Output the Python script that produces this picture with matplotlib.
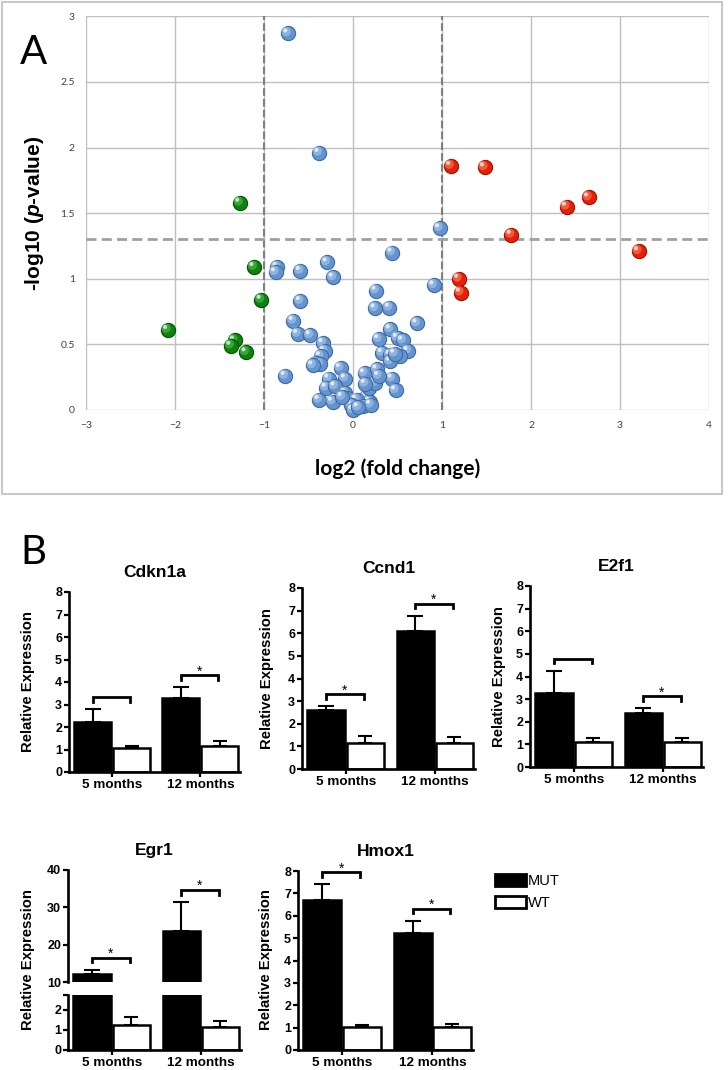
import matplotlib
matplotlib.use("Agg")
import matplotlib.pyplot as plt
from matplotlib.patches import Patch, Rectangle
from matplotlib.transforms import offset_copy
import numpy as np

plt.rcParams['font.family'] = ['Liberation Sans', 'DejaVu Sans']
plt.rcParams['mathtext.fontset'] = 'custom'
plt.rcParams['mathtext.it'] = 'Liberation Sans:italic:bold'
plt.rcParams['mathtext.rm'] = 'Liberation Sans:bold'

W, H = 728, 1070

#########################################################
# panel A : volcano plot (log2 fold change vs -log10 p)
blue_x = [-0.73, -0.38, 0.975, 0.44, -0.29, -0.85, -0.87, -0.59, -0.22,
          0.26, 0.91, -0.59, 0.25, 0.41, -0.67, 0.72, -0.62, -0.48, 0.42,
          0.29, 0.50, 0.56, 0.62, -0.335, -0.32, -0.365, -0.42, -0.37, -0.45,
          0.33, 0.42, 0.53, 0.42, 0.47, -0.76, -0.14, -0.27, -0.085, 0.13,
          0.27, 0.44, 0.48, -0.30, -0.20, -0.085, -0.38, -0.23, -0.065, 0.01,
          0.08, 0.15, 0.19, 0.18, 0.25, 0.04, -0.02, 0.11, 0.20, -0.12,
          0.00, 0.06, 0.29, 0.14]
blue_y = [2.87, 1.96, 1.385, 1.20, 1.125, 1.09, 1.05, 1.06, 1.01,
          0.91, 0.95, 0.83, 0.775, 0.78, 0.68, 0.66, 0.58, 0.57, 0.615,
          0.54, 0.55, 0.53, 0.45, 0.51, 0.45, 0.41, 0.36, 0.35, 0.34,
          0.435, 0.42, 0.41, 0.37, 0.43, 0.26, 0.32, 0.24, 0.24, 0.28,
          0.31, 0.24, 0.15, 0.17, 0.18, 0.13, 0.077, 0.064, 0.09, 0.013,
          0.064, 0.10, 0.064, 0.17, 0.205, 0.08, 0.04, 0.03, 0.04, 0.10,
          0.00, 0.02, 0.26, 0.20]
green_x = [-1.27, -1.11, -1.03, -2.08, -1.33, -1.37, -1.20]
green_y = [1.58, 1.09, 0.84, 0.61, 0.53, 0.49, 0.44]
red_x = [1.10, 1.48, 2.40, 2.65, 1.78, 3.21, 1.19, 1.21]
red_y = [1.86, 1.85, 1.55, 1.62, 1.335, 1.21, 1.00, 0.895]

fc_cut = [-1, 1]
p_cut = 1.3

#########################################################
# panel B : relative expression, MUT vs WT
genes = ['Cdkn1a', 'Ccnd1', 'E2f1', 'Egr1', 'Hmox1']
ages = ['5 months', '12 months']
mut_mean = [[2.24, 3.27], [2.59, 6.10], [3.29, 2.40], [12.2, 23.8], [6.70, 5.24]]
mut_sem = [[0.55, 0.49], [0.18, 0.68], [0.97, 0.19], [1.1, 7.6], [0.70, 0.53]]
wt_mean = [[1.05, 1.17], [1.14, 1.14], [1.09, 1.09], [1.25, 1.17], [1.04, 1.04]]
wt_sem = [[0.10, 0.22], [0.33, 0.28], [0.20, 0.20], [0.42, 0.28], [0.06, 0.11]]
signif = [['', '*'], ['*', '*'], ['', '*'], ['*', '*'], ['*', '*']]


def frac(x0, y0, x1, y1):
    # pixel box (top-left origin) -> figure fraction
    return [x0 / W, 1 - y1 / H, (x1 - x0) / W, (y1 - y0) / H]


def spheres(ax, xs, ys, base, dark, light):
    hi = offset_copy(ax.transData, fig=ax.figure, x=-1.8, y=1.8, units='dots')
    sp = offset_copy(ax.transData, fig=ax.figure, x=-2.8, y=3.0, units='dots')
    for x, y in zip(xs, ys):
        ax.scatter([x], [y], s=105, color=base, edgecolors=dark, linewidths=0.8,
                   zorder=3, clip_on=False)
        ax.scatter([x], [y], s=45, color=light, alpha=0.55, edgecolors='none',
                   zorder=3, transform=hi, clip_on=False)
        ax.scatter([x], [y], s=9, color='white', alpha=0.7, edgecolors='none',
                   zorder=3, transform=sp, clip_on=False)


fig = plt.figure(figsize=(W / 100, H / 100), dpi=100)
fig.patch.set_facecolor('white')

# ---------------- A ----------------
fig.add_artist(Rectangle((2 / W, 1 - 494 / H), 720 / W, 492 / H, transform=fig.transFigure,
                         fill=False, edgecolor='#c8c8c8', linewidth=1.5))
axA = fig.add_axes(frac(86, 16.4, 709, 410))
axA.set_xlim(-3, 4)
axA.set_ylim(0, 3)
axA.set_xticks(range(-3, 5))
axA.set_yticks(np.arange(0, 3.01, 0.5))
axA.set_yticklabels([f'{v:g}' for v in np.arange(0, 3.01, 0.5)])
axA.grid(True, color='#bfbfbf', linewidth=1)
axA.set_axisbelow(True)
for s in axA.spines.values():
    s.set_visible(False)
axA.tick_params(length=0, labelsize=7.5, labelcolor='#404040', pad=8)
for lab in axA.get_xticklabels() + axA.get_yticklabels():
    lab.set_fontfamily('Lato')

for c in fc_cut:
    axA.axvline(c, color='#808080', linewidth=1.5, linestyle=(0, (3.7, 1.5)), zorder=2)
axA.axhline(p_cut, color='#a0a0a0', linewidth=2, linestyle=(0, (3.6, 1.9)), zorder=2)

spheres(axA, blue_x, blue_y, '#6394cf', '#3d6aa3', '#b3cdee')
spheres(axA, green_x, green_y, '#0d820d', '#045204', '#5cc25c')
spheres(axA, red_x, red_y, '#e3200a', '#9c1204', '#ff8a6a')

axA.set_xlabel('log2 (fold change)', fontfamily='Lato', fontweight='bold', fontsize=15)
axA.xaxis.set_label_coords(0.5, -0.122)
axA.set_ylabel(r'-log10 ($\mathit{p}$-value)', fontweight='bold', fontsize=15)
axA.yaxis.set_label_coords(-0.065, 0.5)

fig.text(33 / W, 1 - 53 / H, 'A', fontfamily='Lato', fontsize=29, ha='center', va='center')
fig.text(33 / W, 1 - 553 / H, 'B', fontfamily='Lato', fontsize=29, ha='center', va='center')

# ---------------- B ----------------
pos = np.arange(len(ages))
bw, off = 0.42, 0.22


def style(ax, ticks, xaxis=True):
    for s in ['top', 'right']:
        ax.spines[s].set_visible(False)
    for s in ['left', 'bottom']:
        ax.spines[s].set_linewidth(1.9)
    ax.set_xlim(-0.49, 1.45)
    ax.set_yticks(ticks)
    ax.set_yticklabels([f'{t:g}' for t in ticks], fontweight='bold', fontsize=9)
    ax.tick_params(axis='y', direction='out', length=3.5, width=1.6, pad=1.5)
    if xaxis:
        ax.set_xticks(pos)
        ax.set_xticklabels(ages, fontweight='bold', fontsize=9.7)
        ax.tick_params(axis='x', direction='out', length=3.5, width=1.6, pad=1.5)
    else:
        ax.spines['bottom'].set_visible(False)
        ax.set_xticks([])


def bars(ax, i):
    ax.bar(pos - off, mut_mean[i], bw, color='black', edgecolor='black', linewidth=1.8, zorder=2)
    ax.bar(pos + off, wt_mean[i], bw, color='white', edgecolor='black', linewidth=1.8, zorder=2)
    ax.errorbar(pos - off, mut_mean[i], yerr=[np.zeros(2), mut_sem[i]], fmt='none',
                ecolor='black', elinewidth=1.5, capsize=5.5, capthick=1.5, zorder=1)
    ax.errorbar(pos + off, wt_mean[i], yerr=[np.zeros(2), wt_sem[i]], fmt='none',
                ecolor='black', elinewidth=1.5, capsize=5, capthick=1.5, zorder=1)


def brackets(ax, i):
    lo, hi = ax.get_ylim()
    per_px = (hi - lo) / (ax.get_position().height * H)
    for g in range(len(ages)):
        top = max(mut_mean[i][g] + mut_sem[i][g], wt_mean[i][g] + wt_sem[i][g])
        y = top + 12 * per_px
        x0, x1 = g - off, g + 0.2
        ax.plot([x0, x0, x1, x1], [y - 4.5 * per_px, y, y, y - 4.5 * per_px],
                color='black', linewidth=2, clip_on=False, solid_joinstyle='miter')
        if signif[i][g]:
            ax.text((x0 + x1) / 2, y, signif[i][g], ha='center', va='baseline',
                    fontsize=10, clip_on=False)


boxes = {0: (69, 592, 240, 772), 1: (302, 588, 475, 769), 2: (530, 586, 703, 767),
         4: (298, 871, 473, 1050)}
label_xy = {0: (28, 682), 1: (267, 678.5), 2: (499, 676.5), 3: (28.5, 960), 4: (266, 960)}

for i in [0, 1, 2, 4]:
    ax = fig.add_axes(frac(*boxes[i]))
    ax.set_ylim(0, 8)
    style(ax, range(0, 9))
    bars(ax, i)
    brackets(ax, i)
    ax.set_title(genes[i], fontweight='bold', fontsize=12.5, pad=11)

# Egr1 with broken y axis
ax_up = fig.add_axes(frac(68, 870, 241, 982.3))
ax_lo = fig.add_axes(frac(68, 995, 241, 1050))
ax_up.set_ylim(10, 40)
ax_lo.set_ylim(0, 2.75)
style(ax_up, [10, 20, 30, 40], xaxis=False)
style(ax_lo, [0, 1, 2, 2.75])
ax_lo.set_yticklabels(['0', '1', '2', ''], fontweight='bold', fontsize=9)
for ax in (ax_up, ax_lo):
    bars(ax, 3)
brackets(ax_up, 3)
ax_up.set_title(genes[3], fontweight='bold', fontsize=12.5, pad=11)

for i, (x, y) in label_xy.items():
    fig.text(x / W, 1 - y / H, 'Relative Expression', rotation=90, ha='center', va='center',
             fontweight='bold', fontsize=10.7)

handles = [Patch(facecolor='black', edgecolor='black', linewidth=2, label='MUT'),
           Patch(facecolor='white', edgecolor='black', linewidth=2, label='WT')]
fig.legend(handles=handles, loc='upper left', bbox_to_anchor=(495 / W, 1 - 874 / H),
           frameon=False, fontsize=10.5, handlelength=2.1, handleheight=0.9,
           handletextpad=0.15, labelspacing=0.55, borderaxespad=0, borderpad=0)

fig.savefig('out.png', dpi=100)
